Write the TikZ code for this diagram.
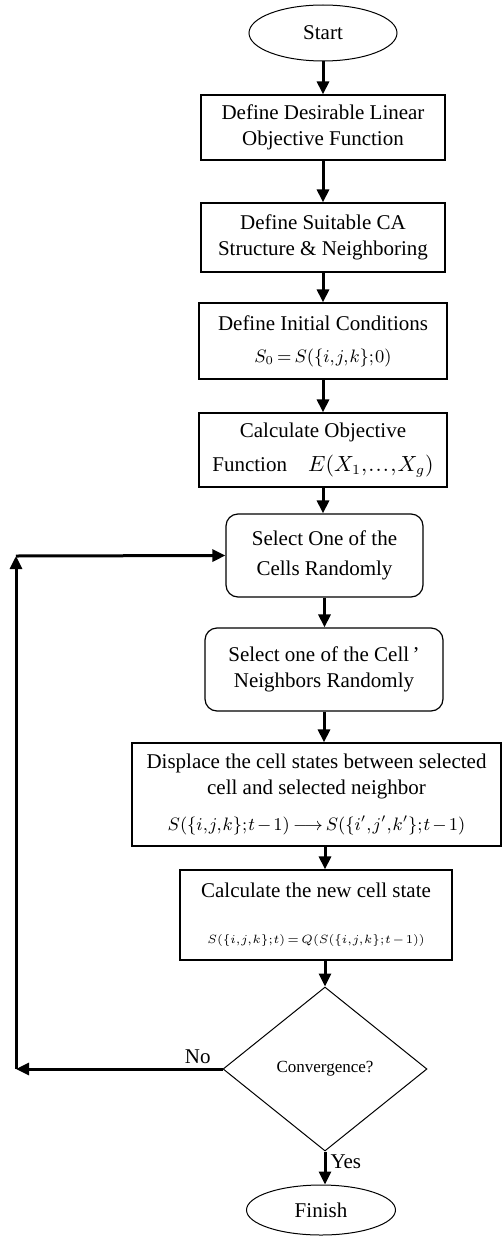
\documentclass[tikz,border=0pt]{standalone}
\usepackage{amsmath}
\usepackage{fontspec}
\setmainfont{Liberation Serif}
\usepackage{tikz}
\usetikzlibrary{shapes.geometric,arrows.meta}
\newcommand{\tightmath}{\thinmuskip=1mu\relax\medmuskip=2mu\relax\thickmuskip=3mu\relax}

\begin{document}
\begin{tikzpicture}[x=0.5pt, y=-0.5pt,
  every node/.style={font=\fontsize{10.5}{13}\selectfont\tightmath, align=center, inner sep=0pt},
  box/.style={draw, line width=0.6pt, rectangle},
  rbox/.style={box, rounded corners=6pt},
  term/.style={draw, ellipse, line width=0.5pt},
  flow/.style={-{Triangle[length=6.5pt,width=6pt]}, line width=1.5pt}]
  \useasboundingbox (0,0) rectangle (503,1236);
  % main column
  \node[term, minimum width=74pt, minimum height=28pt] (start) at (323,33) {Start};
  \node[box, minimum width=122pt, minimum height=32.5pt] (deffun) at (323,127.5) {Define Desirable Linear\\Objective Function};
  \node[box, minimum width=122pt, minimum height=34.5pt] (defca) at (323,237.5) {Define Suitable CA\\Structure \& Neighboring};
  \node[box, minimum width=124pt, minimum height=38pt] (definit) at (323,341) {Define Initial Conditions\\[3pt]{\small $S_{0}=S(\{i,j,k\};0)$}};
  \node[box, minimum width=124pt, minimum height=37pt] (calcobj) at (323,450) {Calculate Objective\\[4pt]Function\quad $E(X_1,\ldots,X_g)$};
  \node[rbox, minimum width=98.5pt, minimum height=41.5pt] (selcell) at (324.5,555.5) {Select One of the\\[2pt]Cells Randomly};
  \node[rbox, minimum width=119pt, minimum height=41.5pt] (selnb) at (324,669.5) {Select one of the Cell\,'\\Neighbors Randomly};
  \node[box, minimum width=184.5pt, minimum height=51.5pt] (displace) at (316.5,794.5) {Displace the cell states between selected\\cell and selected neighbor\\[5pt]{\small $S(\{i,j,k\};t-1)\longrightarrow S(\{i',j',k'\};t-1)$}};
  \node[box, minimum width=136pt, minimum height=45pt] (newstate) at (316,915) {Calculate the new cell state\\[10pt]{\fontsize{6}{8}\selectfont $S(\{i,j,k\};t)=Q(S(\{i,j,k\};t-1))$}};
  \node[draw, diamond, line width=0.5pt, aspect=1.24, minimum width=102pt, minimum height=82pt, font=\fontsize{8.5}{10}\selectfont] (conv) at (325,1069) {Convergence?};
  \node[term, minimum width=74.5pt, minimum height=25pt] (finish) at (321,1210) {Finish};
  % loop back corners
  \coordinate (backlow) at (16,1069);
  \coordinate (backhigh) at (16,556);

  \draw[flow] (start) -- (deffun);
  \draw[flow] (deffun) -- (defca);
  \draw[flow] (defca) -- (definit);
  \draw[flow] (definit) -- (calcobj);
  \draw[flow] (calcobj.south) -- (calcobj.south |- selcell.north);
  \draw[flow] (selcell.south) -- (selcell.south |- selnb.north);
  \draw[flow] (selnb.south) -- (selnb.south |- displace.north);
  \draw[flow] (displace.south -| conv.north) -- (newstate.north -| conv.north);
  \draw[flow] (newstate.south -| conv.north) -- (conv.north);
  \draw[flow] (conv.south) -- node[right, pos=0.3, inner sep=2pt] {Yes} (finish.north -| conv.south);
  \draw[flow] (conv.west) -- node[above, pos=0.12, inner sep=2pt] {No} (backlow);
  \draw[flow] (backlow) -- (backhigh);
  \draw[flow] (backhigh) -- (selcell.west);
\end{tikzpicture}
\end{document}
